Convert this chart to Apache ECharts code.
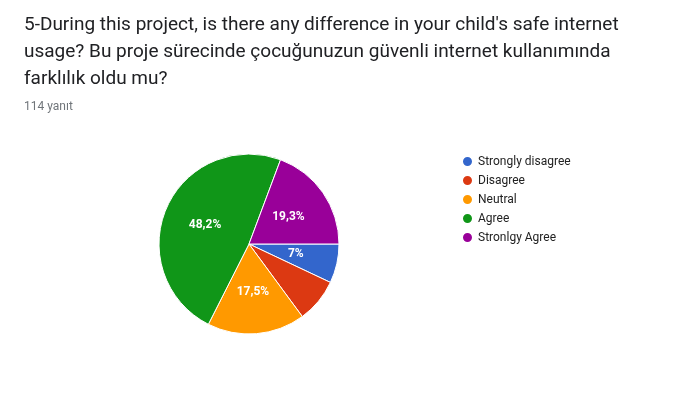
<!DOCTYPE html>
<html><head><meta charset="utf-8">
<script src="https://cdn.jsdelivr.net/npm/echarts@6/dist/echarts.min.js"></script>
<style>html,body{margin:0;padding:0;background:#fff}#c{width:673px;height:419px}</style>
</head><body><div id="c"></div>
<script>
const categories = ['Strongly disagree','Disagree','Neutral','Agree','Stronlgy Agree'];
const values = [8, 9, 20, 55, 22];
const labels = ['7%', '', '17,5%', '48,2%', '19,3%'];
const colors = ['#3366cc','#dc3912','#ff9900','#109618','#990099'];
const chart = echarts.init(document.getElementById('c'));
chart.setOption({
  animation:false,
  title:[{text:"5-During this project, is there any difference in your child's safe internet\nusage? Bu proje sürecinde çocuğunuzun güvenli internet kullanımında\nfarklılık oldu mu?",left:19,top:7,textStyle:{fontFamily:'Roboto',fontSize:19,fontWeight:'normal',color:'#202124',lineHeight:27}},
    {text:'114 yanıt',left:19,top:96,textStyle:{fontFamily:'Roboto',fontSize:12,fontWeight:'normal',color:'#70757a'}}],
  legend:{orient:'vertical',left:456,top:150,itemGap:6,icon:'circle',itemWidth:11,itemHeight:11,
    textStyle:{fontFamily:'Roboto',fontSize:12,color:'#222'},data:categories},
  series:[{type:'pie',center:[249,244],radius:90,startAngle:0,clockwise:true,
    itemStyle:{borderColor:'#fff',borderWidth:1},
    label:{position:'inside',color:'#fff',fontWeight:'bold',fontFamily:'Roboto',fontSize:12,
      formatter:p=>labels[p.dataIndex]},
    labelLine:{show:false},
    data:categories.map((n,i)=>({name:n,value:values[i],itemStyle:{color:colors[i]}}))}]
});
</script></body></html>
